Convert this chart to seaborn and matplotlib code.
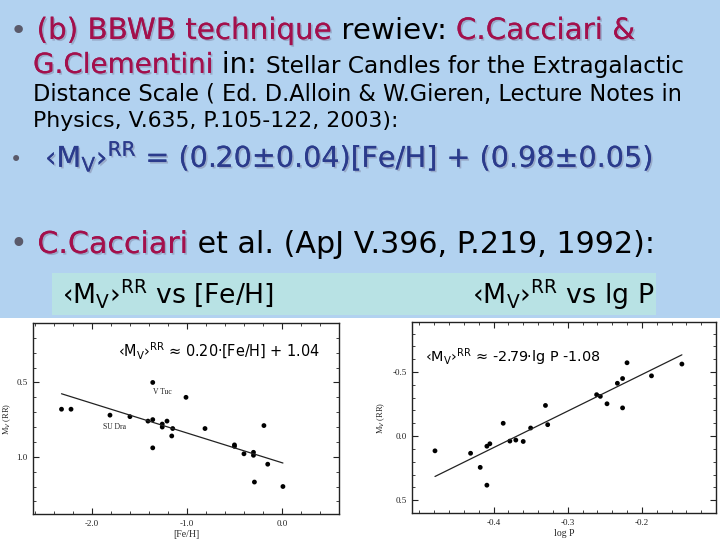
import matplotlib
matplotlib.use("Agg")
import matplotlib.pyplot as plt
import matplotlib.patheffects as pe
from matplotlib.patches import Rectangle
from matplotlib.ticker import MultipleLocator, FixedLocator, FormatStrFormatter
import numpy as np
import pandas as pd
import seaborn as sns

sns.set_theme(style="white")
plt.rcParams['font.family'] = ['DejaVu Sans']
plt.rcParams['mathtext.fontset'] = 'dejavusans'

# ---------------- data ----------------
feh = [-2.32, -2.22, -1.81, -1.60, -1.41, -1.36, -1.36, -1.36, -1.26, -1.26,
       -1.21, -1.16, -1.15, -1.01, -0.81, -0.50, -0.50, -0.40, -0.30, -0.30,
       -0.19, -0.15, -0.29, 0.01]
mv_feh = [0.68, 0.68, 0.72, 0.73, 0.76, 0.50, 0.75, 0.94, 0.78, 0.80,
          0.76, 0.86, 0.81, 0.60, 0.81, 0.92, 0.93, 0.98, 0.97, 0.99,
          0.79, 1.05, 1.17, 1.20]
fit_feh = [0.20, 1.04]          # slope, intercept

logp = [-0.479, -0.431, -0.418, -0.409, -0.409, -0.405, -0.387, -0.378, -0.370,
        -0.360, -0.350, -0.330, -0.327, -0.261, -0.256, -0.247, -0.233, -0.226,
        -0.226, -0.220, -0.187, -0.146]
mv_logp = [0.115, 0.134, 0.244, 0.383, 0.079, 0.060, -0.100, 0.039, 0.031,
           0.042, -0.063, -0.239, -0.089, -0.323, -0.310, -0.252, -0.412, -0.449,
           -0.220, -0.572, -0.470, -0.562]
fit_logp = [-2.85, -1.05]       # slope, intercept (drawn line)

feh_ticks = [-2.0, -1.0, 0.0]
mv_feh_ticks = [0.5, 1.0]
logp_ticks = [-0.4, -0.3, -0.2]
mv_logp_ticks = [-0.5, 0.0, 0.5]

star_names = ["V Tuc", "SU Dra"]
star_pos = [(-1.36, 0.565), (-1.88, 0.80)]

BG = "#b2d2f0"
BOX = "#b8e2e4"
MAROON = "#a3104c"
BLUE = "#2b3b8c"
GRAY = "#5a5a6a"
MV = "‹M$_\\mathregular{V}$›$^\\mathregular{RR}$"

fig = plt.figure(figsize=(7.2, 5.4), dpi=100)
fig.patch.set_facecolor(BG)
renderer = fig.canvas.get_renderer()

# white photo area and cyan label box
fig.add_artist(Rectangle((0, 0), 1, (540 - 318) / 540, transform=fig.transFigure,
                         facecolor="white", edgecolor="none", zorder=0))
fig.add_artist(Rectangle((52 / 720, (540 - 315) / 540), (656 - 52) / 720, 42 / 540,
                         transform=fig.transFigure, facecolor=BOX, edgecolor="none", zorder=0))

shadow = [pe.withSimplePatchShadow(offset=(1.2, -1.2), shadow_rgbFace="#7a7a9a", alpha=0.45),
          pe.Normal()]


def put_line(pieces, x0, ybase, width=None):
    def draw(scale):
        arts = []
        x = x0
        for txt, size, color, sh in pieces:
            t = fig.text(x / 720, 1 - ybase / 540, txt, fontsize=size * scale,
                         color=color, va="baseline", ha="left", zorder=5)
            if sh:
                t.set_path_effects(shadow)
            bb = t.get_window_extent(renderer)
            x = bb.x1
            arts.append(t)
        return arts, x
    arts, xend = draw(1.0)
    if width is not None:
        sc = width / (xend - x0)
        for a in arts:
            a.remove()
        draw(sc)


put_line([("• ", 15, GRAY, False), ("(b) BBWB technique", 15, MAROON, True),
          (" rewiev: ", 15, "black", False), ("C.Cacciari &", 15, MAROON, True)],
         10, 39, 626)
put_line([("G.Clementini", 15, MAROON, True), (" in: ", 15, "black", False),
          ("Stellar Candles for the Extragalactic", 12.5, "black", False)],
         33, 73, 653)
put_line([("Distance Scale ( Ed. D.Alloin & W.Gieren, Lecture Notes in", 12.5, "black", False)],
         33, 101, 655)
put_line([("Physics, V.635, P.105-122, 2003):", 12.5, "black", False)],
         33, 127, 365)
put_line([("•", 15, GRAY, False)], 10, 166)
put_line([(MV + " = (0.20±0.04)[Fe/H] + (0.98±0.05)", 15, BLUE, True)],
         45, 167, 610)
put_line([("• ", 15, GRAY, False), ("C.Cacciari", 15, MAROON, True),
          (" et al. (ApJ V.396, P.219, 1992):", 15, "black", False)],
         10, 253, 645)
put_line([(MV + " vs [Fe/H]", 14, "black", False)], 62, 304, 213)
put_line([(MV + " vs lg P", 14, "black", False)], 472, 304, 183)


def style_axes(ax, xticks, xmin, yticks, ymin):
    ax.set_facecolor("white")
    for s in ax.spines.values():
        s.set_color("#222222")
        s.set_linewidth(1.0)
        s.set_visible(True)
    ax.xaxis.set_major_locator(FixedLocator(xticks))
    ax.xaxis.set_minor_locator(MultipleLocator(xmin))
    ax.yaxis.set_major_locator(FixedLocator(yticks))
    ax.yaxis.set_minor_locator(MultipleLocator(ymin))
    ax.xaxis.set_major_formatter(FormatStrFormatter("%.1f"))
    ax.yaxis.set_major_formatter(FormatStrFormatter("%.1f"))
    ax.tick_params(which="both", direction="in", top=True, right=True,
                   bottom=True, left=True, colors="#222222")
    ax.tick_params(which="major", length=4, width=0.8, labelsize=6.5, pad=4)
    ax.tick_params(which="minor", length=2.5, width=0.6)
    for lab in ax.get_xticklabels() + ax.get_yticklabels():
        lab.set_family("Liberation Serif")
    ax.grid(False)


# ---------------- left panel ----------------
ax1 = fig.add_axes([33 / 720, (540 - 514) / 540, 306 / 720, 191 / 540], zorder=2)
df1 = pd.DataFrame({"feh": feh, "mv": mv_feh})
sns.scatterplot(data=df1, x="feh", y="mv", ax=ax1, color="black", s=12,
                edgecolor="none", marker="o")
xl1 = np.array([min(feh), max(feh)])
sns.lineplot(x=xl1, y=fit_feh[0] * xl1 + fit_feh[1], ax=ax1, color="#222222", lw=0.9)
ax1.set_xlim(-2.62, 0.6)
ax1.set_ylim(1.385, 0.1)
style_axes(ax1, feh_ticks, 0.2, mv_feh_ticks, 0.1)
ax1.set_xlabel("[Fe/H]", family="Liberation Serif", fontsize=7, labelpad=2)
ax1.set_ylabel("M$_V$ (RR)", family="Liberation Serif", fontsize=6, labelpad=2)
for name, (px, py) in zip(star_names, star_pos):
    ax1.text(px, py, name, family="Liberation Serif", fontsize=5.5, color="#222222",
             ha="left", va="center")

# ---------------- right panel ----------------
ax2 = fig.add_axes([412 / 720, (540 - 513) / 540, 304 / 720, 191 / 540], zorder=2)
df2 = pd.DataFrame({"logp": logp, "mv": mv_logp})
sns.scatterplot(data=df2, x="logp", y="mv", ax=ax2, color="black", s=12,
                edgecolor="none", marker="o")
xl2 = np.array([min(logp), max(logp)])
sns.lineplot(x=xl2, y=fit_logp[0] * xl2 + fit_logp[1], ax=ax2, color="#222222", lw=0.9)
ax2.set_xlim(-0.51, -0.10)
ax2.set_ylim(0.6, -0.89)
style_axes(ax2, logp_ticks, 0.02, mv_logp_ticks, 0.1)
ax2.set_xlabel("log P", family="Liberation Serif", fontsize=7, labelpad=2)
ax2.set_ylabel("M$_V$ (RR)", family="Liberation Serif", fontsize=6, labelpad=4)

# formulas on the plots
put_line([(MV + " ≈ 0.20·[Fe/H] + 1.04", 11, "black", False)], 118, 357, 202)
put_line([(MV + " ≈ -2.79·lg P -1.08", 11, "black", False)], 425, 362, 175)

fig.savefig("out.png", dpi=100, facecolor=fig.get_facecolor())
